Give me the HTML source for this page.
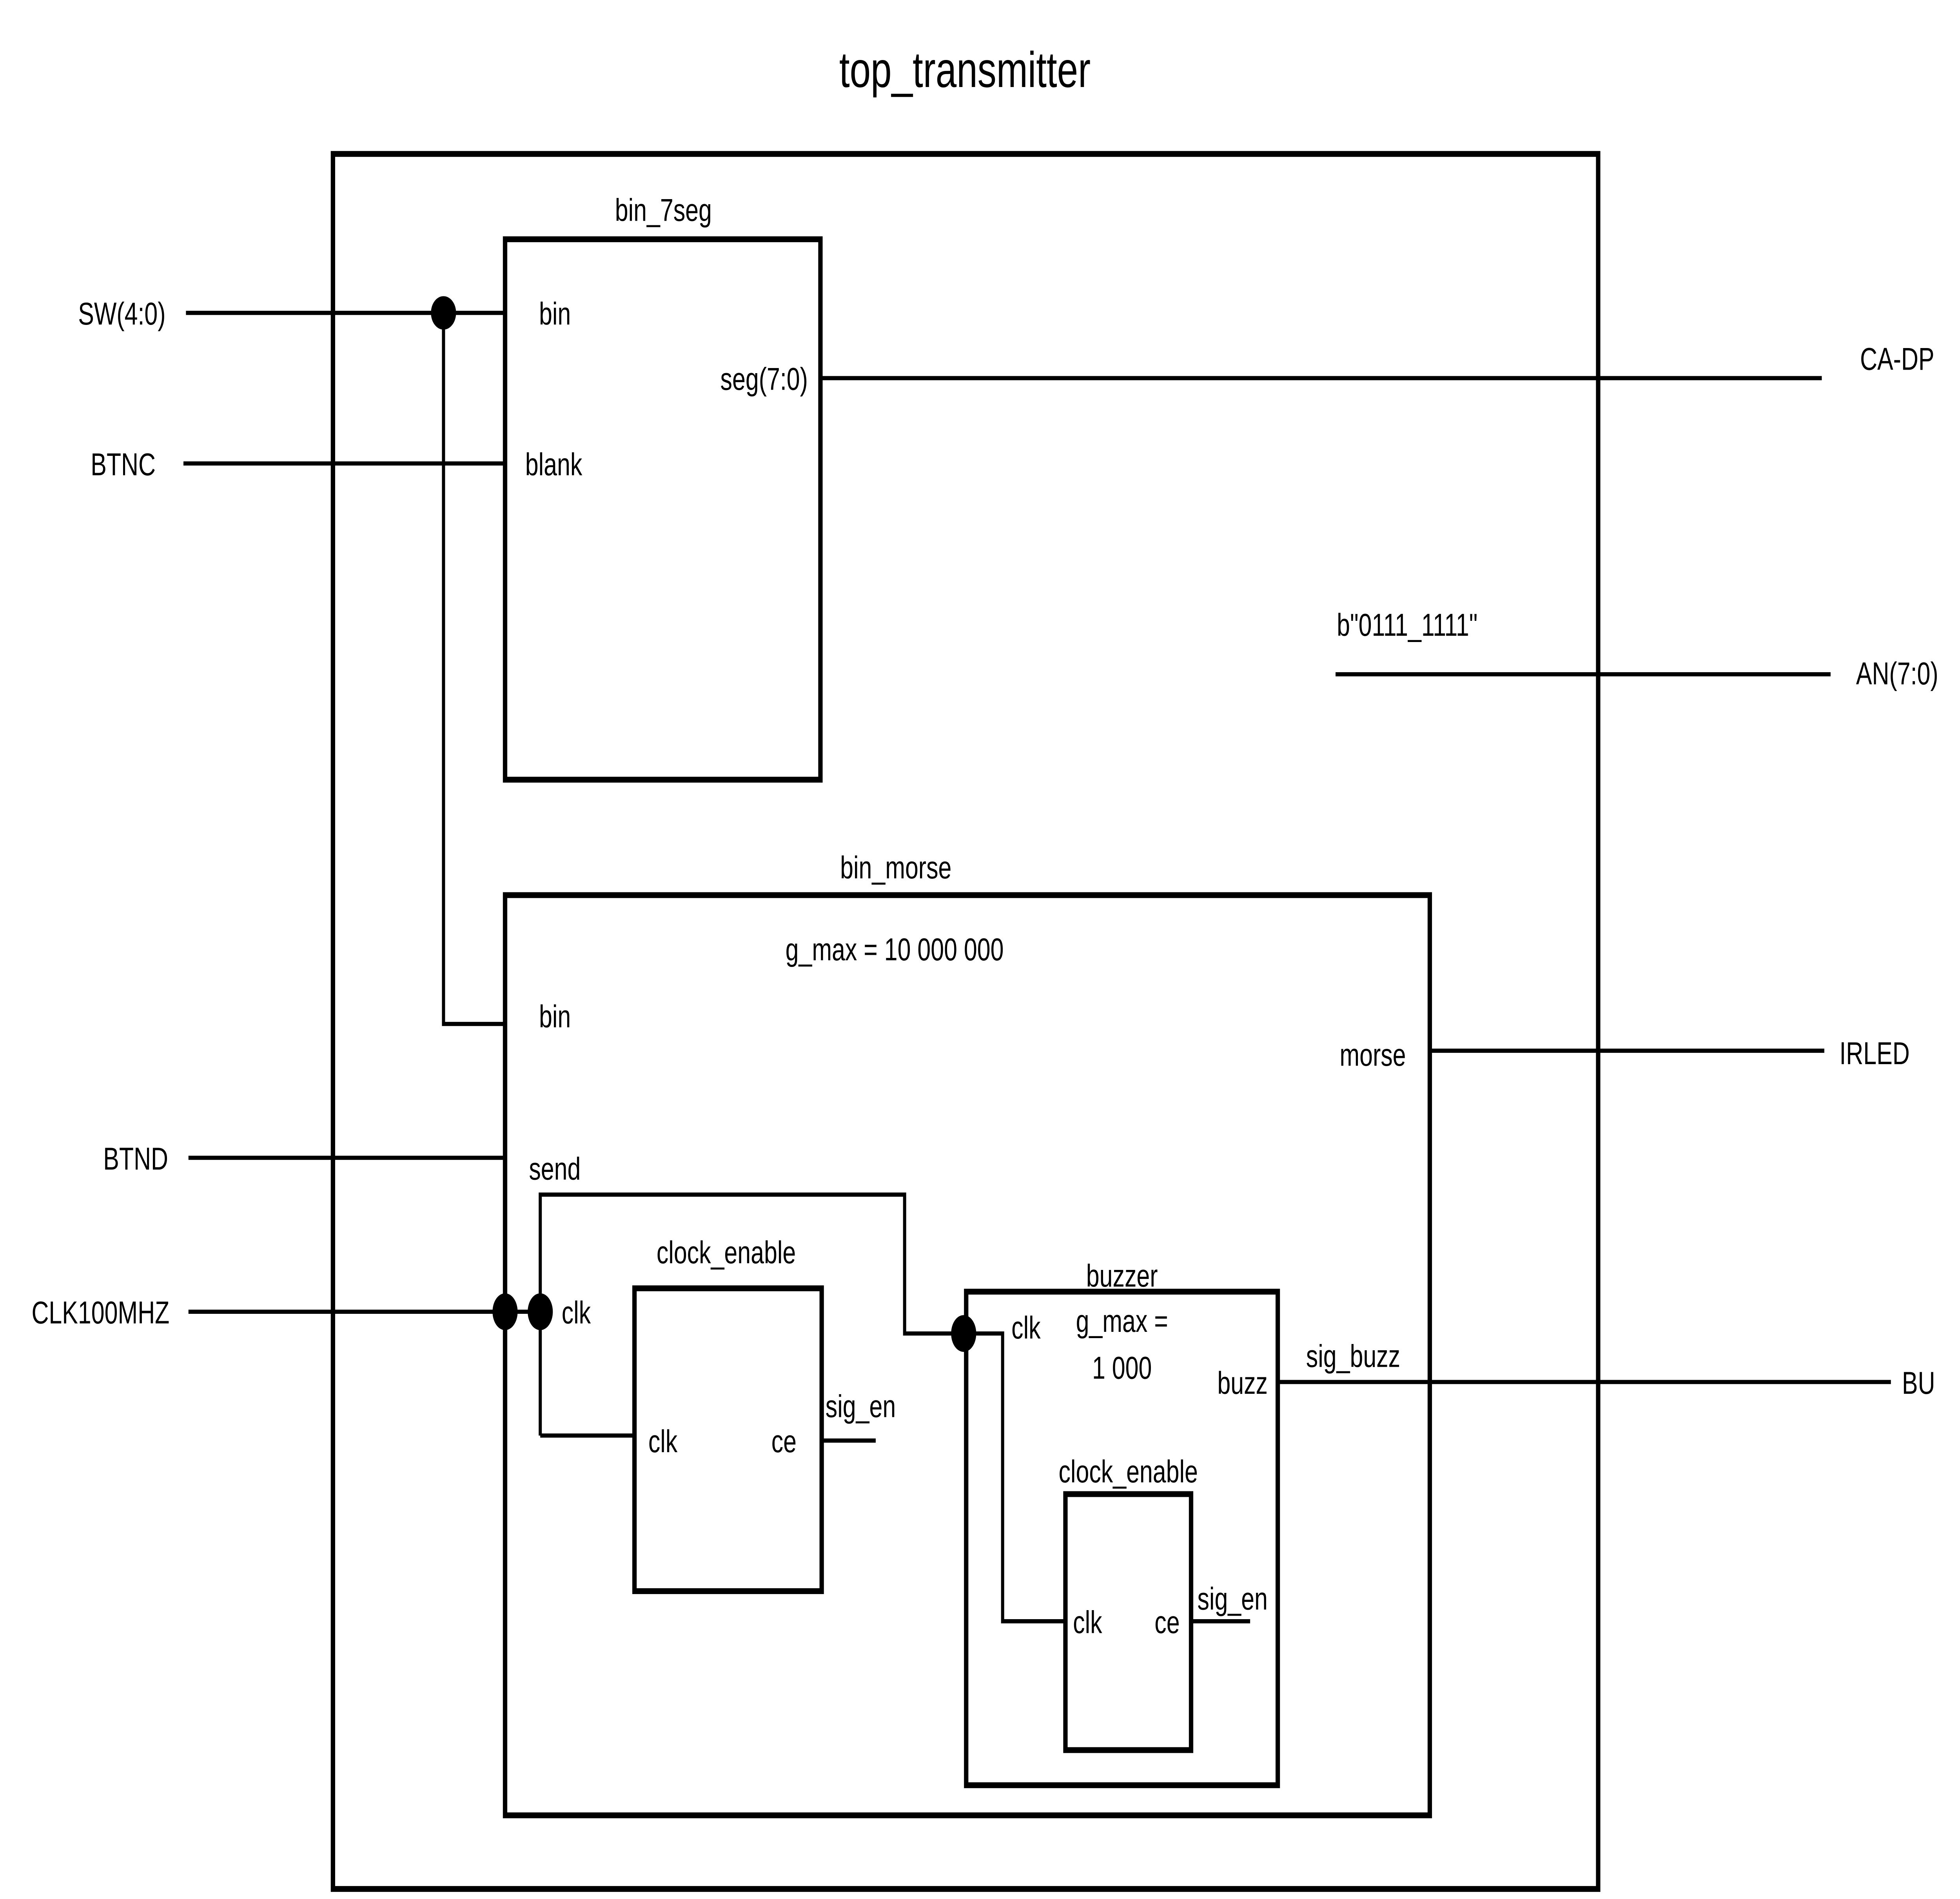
<!DOCTYPE html>
<html><head><meta charset="utf-8"><style>
html,body{margin:0;padding:0;background:#fff;width:100vw;height:100vh;overflow:hidden;}
svg{display:block;position:fixed;left:0;top:0;width:100vw;height:100vh;}
text{font-family:"Liberation Sans",sans-serif;font-size:19px;fill:#000;}
</style></head><body>
<svg viewBox="0 0 1560 1135" preserveAspectRatio="none" xmlns="http://www.w3.org/2000/svg">
<rect width="1560" height="1135" fill="#fff"/>
<text x="768" y="52" text-anchor="middle" style="font-size:30px">top_transmitter</text>
<g fill="none" stroke="#000" stroke-width="3.5">
<rect x="265" y="92" width="1007" height="1037"/>
<rect x="402" y="143" width="251" height="323"/>
<rect x="402" y="535" width="736" height="550"/>
<rect x="505" y="770" width="149" height="181"/>
<rect x="769" y="772" width="248" height="295"/>
<rect x="848" y="893" width="100" height="153"/>
</g>
<g fill="none" stroke="#000" stroke-width="2.5">
<line x1="148" y1="187" x2="402" y2="187"/>
<polyline points="353,187 353,612 402,612"/>
<line x1="146" y1="277" x2="402" y2="277"/>
<line x1="653" y1="226" x2="1450" y2="226"/>
<line x1="1063" y1="403" x2="1457" y2="403"/>
<line x1="1138" y1="628" x2="1452" y2="628"/>
<line x1="150" y1="692" x2="402" y2="692"/>
<line x1="150" y1="784" x2="430" y2="784"/>
<polyline points="430,858 430,714 720,714 720,797 768,797"/>
<line x1="430" y1="858" x2="505" y2="858"/>
<line x1="654" y1="861" x2="697" y2="861"/>
<line x1="1017" y1="826" x2="1505" y2="826"/>
<polyline points="768,797 798,797 798,969 848,969"/>
<line x1="948" y1="969" x2="995" y2="969"/>
</g>
<g fill="#000">
<ellipse cx="353" cy="187" rx="10" ry="10"/>
<ellipse cx="402" cy="784" rx="10" ry="11"/>
<ellipse cx="430" cy="784" rx="10" ry="11"/>
<ellipse cx="767" cy="797" rx="10" ry="11"/>
</g>
<text x="528" y="132" text-anchor="middle">bin_7seg</text>
<text x="97" y="194" text-anchor="middle">SW(4:0)</text>
<text x="98" y="284" text-anchor="middle">BTNC</text>
<text x="429" y="194">bin</text>
<text x="418" y="284">blank</text>
<text x="643" y="233" text-anchor="end">seg(7:0)</text>
<text x="1510" y="221" text-anchor="middle">CA-DP</text>
<text x="1120" y="380" text-anchor="middle">b"0111_1111"</text>
<text x="1510" y="409" text-anchor="middle">AN(7:0)</text>
<text x="713" y="525" text-anchor="middle">bin_morse</text>
<text x="712" y="574" text-anchor="middle">g_max = 10 000 000</text>
<text x="429" y="614">bin</text>
<text x="1119" y="637" text-anchor="end">morse</text>
<text x="1492" y="636" text-anchor="middle">IRLED</text>
<text x="108" y="699" text-anchor="middle">BTND</text>
<text x="421" y="705">send</text>
<text x="80" y="791" text-anchor="middle">CLK100MHZ</text>
<text x="447" y="791">clk</text>
<text x="578" y="755" text-anchor="middle">clock_enable</text>
<text x="516" y="868">clk</text>
<text x="634" y="868" text-anchor="end">ce</text>
<text x="657" y="847">sig_en</text>
<text x="893" y="769" text-anchor="middle">buzzer</text>
<text x="805" y="800">clk</text>
<text x="893" y="796" text-anchor="middle">g_max =</text>
<text x="893" y="824" text-anchor="middle">1 000</text>
<text x="1009" y="833" text-anchor="end">buzz</text>
<text x="1077" y="817" text-anchor="middle">sig_buzz</text>
<text x="1527" y="833" text-anchor="middle">BU</text>
<text x="898" y="886" text-anchor="middle">clock_enable</text>
<text x="854" y="976">clk</text>
<text x="939" y="976" text-anchor="end">ce</text>
<text x="953" y="962">sig_en</text>
</svg>
</body></html>
